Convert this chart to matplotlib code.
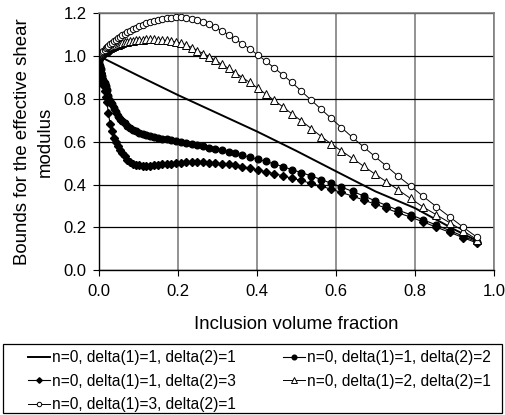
import matplotlib
matplotlib.use("Agg")
import matplotlib.pyplot as plt
from matplotlib.patches import Rectangle

plt.rcParams['font.family'] = ['Liberation Sans', 'DejaVu Sans']

# shared sample positions (inclusion volume fraction) of the marked series
vf = [0, 0.0004, 0.0012, 0.0025, 0.004, 0.006, 0.008, 0.011, 0.014, 0.017,
      0.02, 0.024, 0.028, 0.032, 0.037, 0.042, 0.047, 0.053, 0.059, 0.065,
      0.072, 0.079, 0.086, 0.094, 0.102, 0.111, 0.12, 0.129, 0.139, 0.149,
      0.16, 0.171, 0.183, 0.195, 0.208, 0.221, 0.235, 0.249, 0.264, 0.279,
      0.295, 0.311, 0.328, 0.345, 0.363, 0.382, 0.402, 0.422, 0.443, 0.465,
      0.488, 0.512, 0.538, 0.563, 0.588, 0.614, 0.642, 0.67, 0.698, 0.728,
      0.757, 0.789, 0.82, 0.854, 0.888, 0.922, 0.957]

# n=0, delta(1)=1, delta(2)=1 (plain line)
vf_11 = [0, 0.1, 0.2, 0.3, 0.4, 0.5, 0.6, 0.7, 0.8, 0.9, 0.96]
mu_11 = [1.0, 0.908, 0.818, 0.733, 0.648, 0.557, 0.462, 0.368, 0.29, 0.19, 0.135]

# n=0, delta(1)=1, delta(2)=2
mu_12 = [1.0, 0.99, 0.975, 0.955, 0.94, 0.92, 0.905, 0.89, 0.875, 0.858,
         0.84, 0.815, 0.792, 0.775, 0.757, 0.74, 0.722, 0.708, 0.696, 0.686,
         0.674, 0.665, 0.657, 0.65, 0.643, 0.637, 0.631, 0.627, 0.623, 0.619,
         0.615, 0.611, 0.607, 0.603, 0.598, 0.594, 0.589, 0.584, 0.579, 0.573,
         0.566, 0.559, 0.552, 0.545, 0.537, 0.528, 0.518, 0.508, 0.497, 0.484,
         0.47, 0.456, 0.44, 0.423, 0.406, 0.388, 0.368, 0.347, 0.325, 0.302,
         0.281, 0.259, 0.236, 0.211, 0.185, 0.159, 0.132]

# n=0, delta(1)=1, delta(2)=3
mu_13 = [1.0, 0.985, 0.965, 0.94, 0.92, 0.9, 0.885, 0.865, 0.835, 0.81,
         0.785, 0.732, 0.685, 0.648, 0.618, 0.598, 0.58, 0.563, 0.548, 0.532,
         0.516, 0.505, 0.497, 0.492, 0.489, 0.487, 0.487, 0.488, 0.49, 0.492,
         0.494, 0.496, 0.498, 0.5, 0.502, 0.503, 0.504, 0.504, 0.503, 0.502,
         0.5, 0.497, 0.494, 0.489, 0.483, 0.476, 0.468, 0.46, 0.451, 0.441,
         0.43, 0.419, 0.405, 0.392, 0.378, 0.363, 0.346, 0.328, 0.309, 0.289,
         0.268, 0.248, 0.226, 0.201, 0.177, 0.152, 0.127]

# n=0, delta(1)=2, delta(2)=1
mu_21 = [1.0, 1.001, 1.002, 1.004, 1.007, 1.01, 1.013, 1.017, 1.021, 1.025,
         1.029, 1.034, 1.038, 1.042, 1.046, 1.05, 1.054, 1.058, 1.061, 1.064,
         1.067, 1.07, 1.072, 1.074, 1.076, 1.077, 1.078, 1.078, 1.078, 1.077,
         1.075, 1.073, 1.07, 1.066, 1.061, 1.052, 1.04, 1.026, 1.012, 0.998,
         0.98, 0.961, 0.943, 0.923, 0.9, 0.877, 0.85, 0.823, 0.794, 0.764,
         0.731, 0.698, 0.661, 0.624, 0.59, 0.557, 0.522, 0.486, 0.45, 0.413,
         0.376, 0.335, 0.296, 0.259, 0.222, 0.184, 0.143]

# n=0, delta(1)=3, delta(2)=1
mu_31 = [1.0, 1.001, 1.003, 1.006, 1.009, 1.013, 1.018, 1.024, 1.03, 1.036,
         1.042, 1.049, 1.056, 1.062, 1.07, 1.077, 1.084, 1.091, 1.098, 1.105,
         1.112, 1.119, 1.126, 1.133, 1.14, 1.147, 1.153, 1.158, 1.163, 1.168,
         1.172, 1.176, 1.179, 1.181, 1.181, 1.179, 1.175, 1.168, 1.159, 1.148,
         1.134, 1.118, 1.1, 1.079, 1.057, 1.033, 1.006, 0.977, 0.946, 0.913,
         0.878, 0.837, 0.793, 0.751, 0.709, 0.666, 0.62, 0.576, 0.532, 0.486,
         0.44, 0.393, 0.346, 0.297, 0.249, 0.201, 0.154]

labels = ["n=0, delta(1)=1, delta(2)=1", "n=0, delta(1)=1, delta(2)=2",
          "n=0, delta(1)=1, delta(2)=3", "n=0, delta(1)=2, delta(2)=1",
          "n=0, delta(1)=3, delta(2)=1"]

fig = plt.figure(figsize=(5.05, 4.15), dpi=100)
ax = fig.add_axes([0.196, 0.349, 0.782, 0.619])

h11, = ax.plot(vf_11, mu_11, color='black', lw=1.4, label=labels[0])
h12, = ax.plot(vf, mu_12, color='black', lw=0.8, marker='o', ms=4.8,
               mfc='black', mec='black', label=labels[1])
h13, = ax.plot(vf, mu_13, color='black', lw=0.8, marker='D', ms=4.0,
               mfc='black', mec='black', label=labels[2])
h21, = ax.plot(vf, mu_21, color='black', lw=0.7, marker='^', ms=5.2,
               mfc='white', mec='black', mew=0.7, label=labels[3])
h31, = ax.plot(vf, mu_31, color='black', lw=0.7, marker='o', ms=4.6,
               mfc='white', mec='black', mew=0.7, label=labels[4])

ax.set_xlim(0, 1.0)
ax.set_ylim(0, 1.2)
ax.set_xticks([0, 0.2, 0.4, 0.6, 0.8, 1.0])
ax.set_yticks([0, 0.2, 0.4, 0.6, 0.8, 1.0, 1.2])
ax.xaxis.set_major_formatter(matplotlib.ticker.FormatStrFormatter('%.1f'))
ax.yaxis.set_major_formatter(matplotlib.ticker.FormatStrFormatter('%.1f'))
ax.tick_params(direction='out', length=4, width=0.8, labelsize=12, pad=5)
ax.tick_params(axis='x', pad=6)
ax.yaxis.grid(True, color='black', lw=0.9)
ax.xaxis.grid(True, color='#808080', lw=1.2)
ax.set_axisbelow(True)
for s in ['top', 'right']:
    ax.spines[s].set_color('#808080')
    ax.spines[s].set_linewidth(1.2)
for s in ['left', 'bottom']:
    ax.spines[s].set_linewidth(1.0)

ax.set_xlabel("Inclusion volume fraction", fontsize=13.4, labelpad=12)
ax.set_ylabel("Bounds for the effective shear\nmodulus", fontsize=13.4,
              linespacing=1.4, labelpad=7)

# legend box drawn on its own, entries spread inside it
fig.patches.append(Rectangle((0.006, 0.0048), 0.988, 0.166,
                             transform=fig.transFigure, fill=False,
                             edgecolor='black', lw=0.9))
fig.legend([h11, h13, h31, h12, h21],
           [labels[0], labels[2], labels[4], labels[1], labels[3]],
           ncol=2, loc='upper left', bbox_to_anchor=(0.0554, 0.0048, 0.917, 0.151),
           mode='expand', fontsize=11.2, frameon=False,
           handlelength=1.41, handletextpad=0.13, borderpad=0,
           borderaxespad=0, labelspacing=0.54, markerscale=0.7)

fig.savefig("out.png", dpi=100)
